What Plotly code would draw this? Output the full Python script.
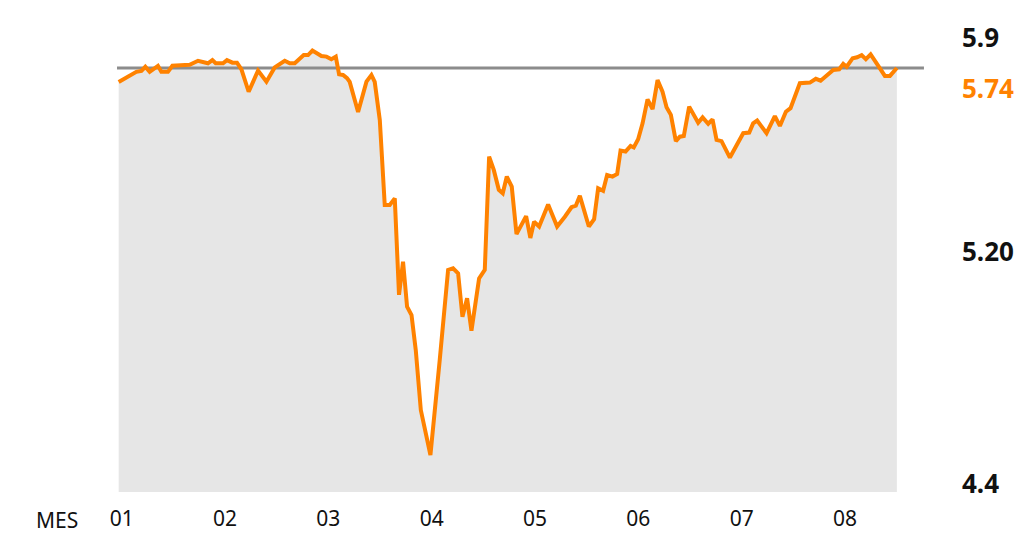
import plotly.graph_objects as go

# month position (01 = start of January) and price
mes = [0.971, 1.094, 1.142, 1.191, 1.229, 1.271, 1.351, 1.384, 1.448, 1.491,
       1.658, 1.739, 1.835, 1.878, 1.910, 1.981, 2.019, 2.072, 2.116, 2.159,
       2.229, 2.320, 2.401, 2.481, 2.578, 2.626, 2.675, 2.762, 2.804, 2.846,
       2.933, 2.982, 3.030, 3.072, 3.104, 3.142, 3.181, 3.207, 3.288, 3.369,
       3.417, 3.449, 3.498, 3.546, 3.594, 3.643, 3.684, 3.723, 3.762, 3.805,
       3.846, 3.895, 3.988, 4.078, 4.159, 4.207, 4.256, 4.298, 4.343, 4.385,
       4.459, 4.514, 4.556, 4.601, 4.650, 4.688, 4.727, 4.775, 4.821, 4.914,
       4.955, 4.991, 5.040, 5.127, 5.214, 5.289, 5.353, 5.395, 5.434, 5.521,
       5.572, 5.611, 5.659, 5.698, 5.750, 5.795, 5.828, 5.876, 5.925, 5.956,
       5.998, 6.041, 6.089, 6.138, 6.186, 6.234, 6.273, 6.315, 6.363, 6.402,
       6.440, 6.492, 6.531, 6.579, 6.622, 6.676, 6.718, 6.757, 6.805, 6.886,
       7.015, 7.073, 7.111, 7.150, 7.241, 7.321, 7.370, 7.428, 7.473, 7.563,
       7.660, 7.718, 7.764, 7.822, 7.886, 7.944, 7.983, 8.016, 8.074, 8.118,
       8.161, 8.202, 8.248, 8.306, 8.386, 8.435, 8.483, 8.502]

precio = [5.696, 5.718, 5.728, 5.731, 5.744, 5.728, 5.747, 5.728, 5.728, 5.747,
          5.750, 5.763, 5.755, 5.765, 5.755, 5.755, 5.765, 5.757, 5.757, 5.736,
          5.665, 5.732, 5.697, 5.742, 5.763, 5.755, 5.755, 5.781, 5.781, 5.795,
          5.778, 5.776, 5.768, 5.776, 5.720, 5.718, 5.708, 5.696, 5.601, 5.697,
          5.718, 5.696, 5.576, 5.307, 5.307, 5.328, 5.023, 5.128, 4.986, 4.959,
          4.849, 4.659, 4.517, 4.817, 5.102, 5.107, 5.091, 4.954, 5.012, 4.910,
          5.075, 5.102, 5.460, 5.418, 5.355, 5.344, 5.397, 5.365, 5.215, 5.272,
          5.203, 5.254, 5.239, 5.309, 5.239, 5.270, 5.300, 5.305, 5.336, 5.239,
          5.262, 5.360, 5.352, 5.402, 5.397, 5.405, 5.479, 5.476, 5.494, 5.489,
          5.515, 5.565, 5.641, 5.610, 5.702, 5.665, 5.616, 5.592, 5.509, 5.523,
          5.525, 5.618, 5.595, 5.567, 5.584, 5.564, 5.578, 5.513, 5.509, 5.457,
          5.534, 5.536, 5.565, 5.574, 5.534, 5.588, 5.557, 5.602, 5.613, 5.692,
          5.694, 5.706, 5.700, 5.715, 5.734, 5.736, 5.753, 5.744, 5.771, 5.774,
          5.781, 5.768, 5.783, 5.755, 5.715, 5.715, 5.734, 5.740]

meses = [1, 2, 3, 4, 5, 6, 7, 8]
meses_txt = ["01", "02", "03", "04", "05", "06", "07", "08"]

referencia = 5.74
ref_x = [0.955, 8.764]

etiquetas = ["5.9", "5.74", "5.20", "4.4"]
etiquetas_y = [0.943, 0.839, 0.501, 0.018]
etiquetas_color = ["#111111", "#FF8200", "#111111", "#111111"]

fig = go.Figure()

# grey area under the price
fig.add_trace(go.Scatter(
    x=mes, y=precio, mode="lines", fill="tozeroy",
    fillcolor="#E6E6E6", line=dict(width=0), hoverinfo="skip"
))

# reference level
fig.add_trace(go.Scatter(
    x=ref_x, y=[referencia, referencia], mode="lines",
    line=dict(color="#8C8C8C", width=3), hoverinfo="skip"
))

fig.add_trace(go.Scatter(
    x=mes, y=precio, mode="lines",
    line=dict(color="#FF8200", width=4, shape="linear")
))

for txt, yy, col in zip(etiquetas, etiquetas_y, etiquetas_color):
    fig.add_annotation(
        text=txt, xref="paper", yref="paper", x=0.957, y=yy,
        xanchor="left", yanchor="middle", showarrow=False,
        font=dict(family="Noto Sans", size=26, color=col, weight="bold")
    )

fig.add_annotation(
    text="MES", xref="paper", yref="paper", x=-0.014, y=-0.058,
    xanchor="center", yanchor="middle", showarrow=False,
    font=dict(family="Noto Sans", size=21, color="#111111")
)

fig.update_layout(
    width=1024, height=550,
    margin=dict(l=70, r=24, t=10, b=58),
    paper_bgcolor="white", plot_bgcolor="white",
    showlegend=False,
    xaxis=dict(
        range=[0.5, 9.5], tickvals=meses, ticktext=meses_txt,
        showgrid=False, zeroline=False, showline=False, ticks="",
        tickfont=dict(family="Noto Sans", size=21, color="#111111"),
        ticklabelstandoff=12
    ),
    yaxis=dict(
        range=[4.4, 5.9234], showgrid=False, zeroline=False,
        showline=False, showticklabels=False, ticks=""
    ),
)

fig.write_html("out.html", config={"displayModeBar": False},
               post_script="document.body.style.margin='0';")
